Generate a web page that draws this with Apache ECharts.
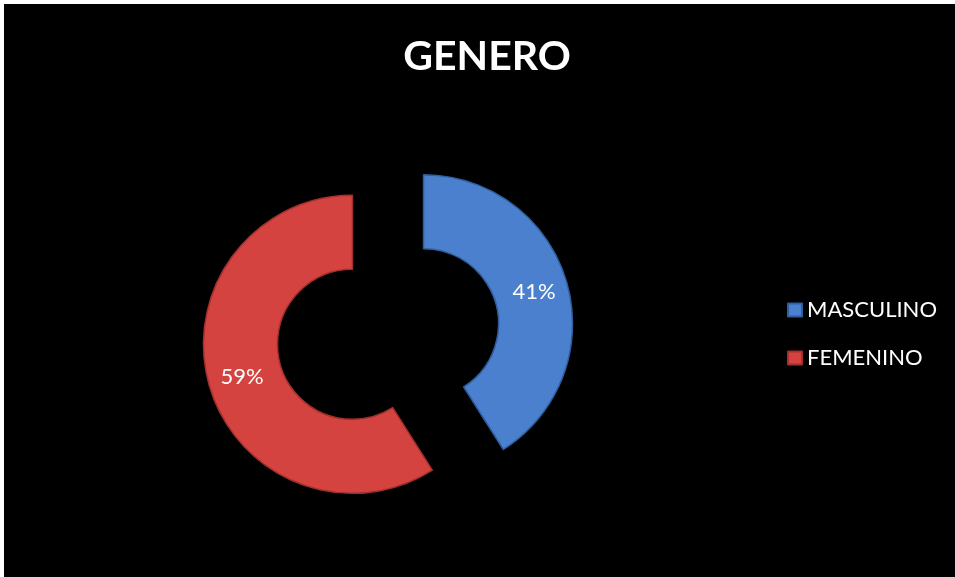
<!DOCTYPE html>
<html>
<head>
<meta charset="utf-8">
<script src="https://cdn.jsdelivr.net/npm/echarts@6/dist/echarts.min.js"></script>
<style>
html,body{margin:0;padding:0;background:#ffffff;width:955px;height:577px;overflow:hidden;}
#chart{position:absolute;left:4px;top:4px;width:951px;height:573px;background:#000;}
</style>
</head>
<body>
<div id="chart"></div>
<script>
const titleText = 'GENERO';
const categories = ['MASCULINO', 'FEMENINO'];
const values = [41, 59];
const colors = ['#4a80cd', '#d4433f'];
const darkColors = ['#2f5e9e', '#a3302d'];

const chart = echarts.init(document.getElementById('chart'), null, {renderer: 'canvas'});

const option = {
  backgroundColor: '#000000',
  animation: false,
  title: {
    text: titleText,
    left: 478,
    top: 27,
    textAlign: 'center',
    textStyle: {color: '#ffffff', fontFamily: 'Lato', fontWeight: 'bold', fontSize: 41}
  },
  legend: {
    orient: 'vertical',
    left: 778,
    top: 290,
    itemGap: 26,
    itemWidth: 14,
    itemHeight: 13,
    icon: 'rect',
    data: categories,
    textStyle: {color: '#ffffff', fontFamily: 'Lato', fontSize: 22}
  },
  series: [{
    type: 'pie',
    center: [384, 330],
    radius: [75, 149],
    startAngle: 90,
    clockwise: true,
    selectedMode: 'multiple',
    selectedOffset: 37,
    avoidLabelOverlap: false,
    emphasis: {disabled: true},
    label: {
      show: true,
      position: 'inside',
      formatter: '{d}%',
      color: '#ffffff',
      fontFamily: 'Lato',
      fontSize: 22
    },
    labelLine: {show: false},
    data: categories.map((c, i) => ({
      name: c,
      value: values[i],
      selected: true,
      itemStyle: {color: colors[i], borderColor: darkColors[i], borderWidth: 1.5}
    }))
  }]
};
chart.setOption(option);
</script>
</body>
</html>
